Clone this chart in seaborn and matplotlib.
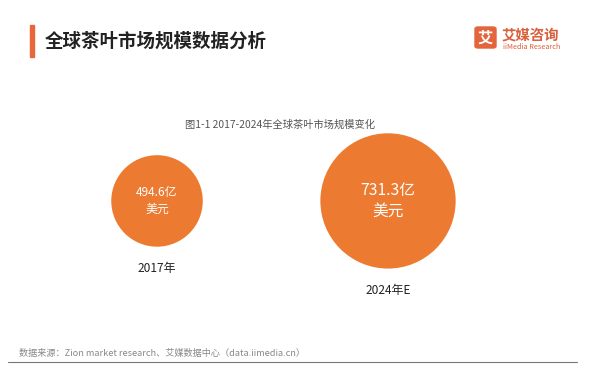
import numpy as np
import pandas as pd
import matplotlib
matplotlib.use("Agg")
import matplotlib.pyplot as plt
from matplotlib.patches import FancyBboxPatch
import seaborn as sns

# data
years = ["2017年", "2024年E"]
market_size = [494.6, 731.3]
value_labels = ["494.6亿\n美元", "731.3亿\n美元"]

title = "全球茶叶市场规模数据分析"
subtitle = "图1-1 2017-2024年全球茶叶市场规模变化"
source = "数据来源：Zion market research、艾媒数据中心（data.iimedia.cn）"

sns.set_style("white")
plt.rcParams['font.family'] = ['Noto Sans CJK SC', 'DejaVu Sans']

orange = "#EC7A30"
W, H, DPI = 600, 367, 100
fig = plt.figure(figsize=(W / DPI, H / DPI), dpi=DPI)
fig.patch.set_facecolor("white")

df = pd.DataFrame({"year": years, "size": market_size, "pos": [0, 1], "y": [0, 0]})

# circle radius (px) proportional to value, converted to marker area in pt^2
px_per_unit = 0.0925
radius_px = {v: v * px_per_unit for v in market_size}
area = {v: (2 * r * 72 / DPI) ** 2 for v, r in radius_px.items()}

ax = fig.add_axes([0.1, 0.2, 0.8, 0.6])
sns.scatterplot(data=df, x="pos", y="y", size="size", sizes=area,
                color=orange, edgecolor="none", legend=False, ax=ax)
ax.set_xlim(-0.42, 1.658)
ax.set_ylim(-93, 128)
ax.axis("off")

fs_in = [8.6, 11.3]
for i, row in df.iterrows():
    ax.text(row["pos"], row["y"], value_labels[i], color="white", ha="center",
            va="center", fontsize=fs_in[i], linespacing=1.3)
    r = radius_px[row["size"]]
    ax.annotate(row["year"], (row["pos"], row["y"]),
                xytext=(0, -(r + 22) * 72 / DPI), textcoords="offset points",
                ha="center", va="center", fontsize=8.6, color="#222222",
                fontweight="medium")

# header
fig.add_artist(plt.Rectangle((30 / W, 1 - 57 / H), 4 / W, 32 / H,
                             color="#E8663A", transform=fig.transFigure))
fig.text(45 / W, 1 - 41 / H, title, fontsize=13.3, fontweight="bold",
         color="#222222", va="center", ha="left")

# logo
fig.add_artist(FancyBboxPatch((475 / W, 1 - 48 / H), 21 / W, 21 / H,
                              boxstyle="round,pad=0,rounding_size=0.005",
                              color="#E4643C", transform=fig.transFigure))
fig.text(485.5 / W, 1 - 37.5 / H, "艾", fontsize=11, fontweight="bold",
         color="white", ha="center", va="center")
fig.text(502 / W, 1 - 35 / H, "艾媒咨询", fontsize=10.4, fontweight="bold",
         color="#D9603B", ha="left", va="center")
fig.text(503 / W, 1 - 47 / H, "iiMedia Research", fontsize=5.3,
         color="#D9603B", ha="left", va="center")

# subtitle
fig.text(280 / W, 1 - 125 / H, subtitle, fontsize=7.4, color="#555555",
         ha="center", va="center")

# footer
fig.text(19 / W, 1 - 353 / H, source, fontsize=6.6, color="#888888",
         ha="left", va="center")
fig.add_artist(plt.Line2D([8 / W, 577 / W], [1 - 362 / H, 1 - 362 / H],
                          color="#777777", lw=0.8, transform=fig.transFigure))

fig.savefig("out.png", dpi=DPI, facecolor="white")
